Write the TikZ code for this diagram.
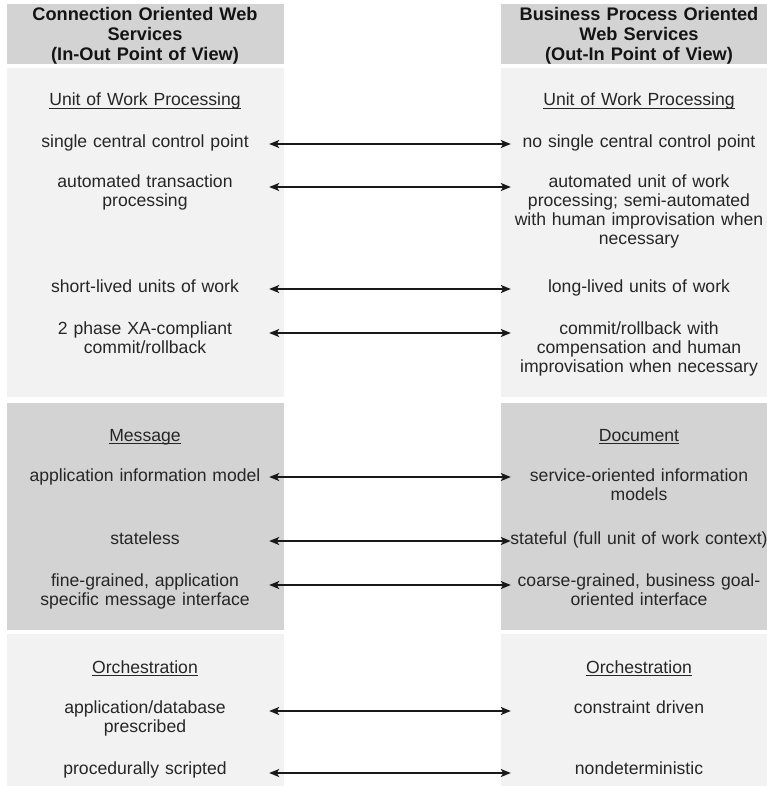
\documentclass[tikz,border=0pt]{standalone}
\usepackage{fontspec}
\setmainfont{Liberation Sans}
\usetikzlibrary{arrows.meta, positioning}

\definecolor{bandgray}{HTML}{D3D3D3}
\definecolor{palegray}{HTML}{F2F2F2}
\definecolor{inkgray}{HTML}{262626}

\newcommand{\rowfont}{\fontsize{17.6}{19}\selectfont}
\newcommand{\colheadfont}{\fontsize{18.2}{20}\selectfont\bfseries}
\newsavebox{\topicbox}
\newcommand{\topicline}[1]{\sbox{\topicbox}{#1}\rlap{\rule[-2.5pt]{\wd\topicbox}{0.9pt}}\usebox{\topicbox}}

\begin{document}
\begin{tikzpicture}[x=1pt, y=-1pt,
		lefttext/.style = {text width=248pt, align=center, inner sep=0pt, anchor=base, font=\rowfont, text=inkgray},
		righttext/.style = {lefttext, text width=256pt},
		headtext/.style = {text width=272pt, align=center, inner sep=0pt, anchor=base, font=\colheadfont, text=black!92},
		band/.style = {fill=bandgray},
		pale/.style = {fill=palegray},
		link/.style = {<->, line width=1.5pt, draw=black!90},
		>={Stealth[length=10pt, width=8pt, inset=2.5pt]}
		]
		
		\useasboundingbox (0,0) rectangle (767,786);
		
		% --- FONDOS DE COLUMNA ---
		\fill [band] (7,4)   rectangle (284,64);
		\fill [band] (501,4) rectangle (767,64);
		\fill [pale] (7,68)   rectangle (284,397);
		\fill [pale] (501,68) rectangle (767,397);
		\fill [band] (7,403)   rectangle (284,630);
		\fill [band] (501,403) rectangle (767,630);
		\fill [pale] (7,634)   rectangle (284,786);
		\fill [pale] (501,634) rectangle (767,786);
		
		% --- TITULOS DE COLUMNA ---
		\node [headtext] (head_l) at (145,21) {Connection Oriented Web\\ Services\\ (In-Out Point of View)};
		\node [headtext] (head_r) at (639,21) {Business Process Oriented\\ Web Services\\ (Out-In Point of View)};
		
		% --- BLOQUE 1: UNIDAD DE TRABAJO ---
		\node [lefttext]  (unit_l) at (145,106) {\topicline{Unit of Work Processing}};
		\node [righttext] (unit_r) at (639,106) {\topicline{Unit of Work Processing}};
		
		\node [lefttext]  (ctrl_l) at (145,147.5) {single central control point};
		\node [righttext] (ctrl_r) at (639,147.5) {no single central control point};
		
		\node [lefttext]  (txn_l) at (145,188) {automated transaction\\ processing};
		\node [righttext] (txn_r) at (639,188) {automated unit of work\\ processing; semi-automated\\ with human improvisation when\\ necessary};
		
		\node [lefttext]  (life_l) at (145,292.5) {short-lived units of work};
		\node [righttext] (life_r) at (639,292.5) {long-lived units of work};
		
		\node [lefttext]  (commit_l) at (145,334.5) {2 phase XA-compliant\\ commit/rollback};
		\node [righttext] (commit_r) at (639,334.5) {commit/rollback with\\ compensation and human\\ improvisation when necessary};
		
		% --- BLOQUE 2: MENSAJE / DOCUMENTO ---
		\node [lefttext]  (msg_l) at (145,441) {\topicline{Message}};
		\node [righttext] (doc_r) at (639,441) {\topicline{Document}};
		
		\node [lefttext]  (info_l) at (145,481.5) {application information model};
		\node [righttext] (info_r) at (639,481.5) {service-oriented information\\ models};
		
		\node [lefttext]  (state_l) at (145,544.5) {stateless};
		\node [righttext] (state_r) at (639,544.5) {\makebox[\linewidth]{stateful (full unit of work context)}};
		
		\node [lefttext]  (grain_l) at (145,586.5) {fine-grained, application\\ specific message interface};
		\node [righttext] (grain_r) at (639,586.5) {coarse-grained, business goal-\\ oriented interface};
		
		% --- BLOQUE 3: ORQUESTACION ---
		\node [lefttext]  (orch_l) at (145,673) {\topicline{Orchestration}};
		\node [righttext] (orch_r) at (639,673) {\topicline{Orchestration}};
		
		\node [lefttext]  (presc_l) at (145,713.5) {application/database\\ prescribed};
		\node [righttext] (presc_r) at (639,713.5) {constraint driven};
		
		\node [lefttext]  (script_l) at (145,774.5) {procedurally scripted};
		\node [righttext] (script_r) at (639,774.5) {nondeterministic};
		
		% --- CONEXIONES ENTRE COLUMNAS ---
		\draw [link] ([yshift=3.5pt]ctrl_l.base east)   -- ([yshift=3.5pt]ctrl_r.base west);
		\draw [link] ([yshift=1pt]txn_l.base east)      -- ([yshift=1pt]txn_r.base west);
		\draw [link] ([yshift=3.5pt]life_l.base east)   -- ([yshift=3.5pt]life_r.base west);
		\draw [link] ([yshift=1.5pt]commit_l.base east) -- ([yshift=1.5pt]commit_r.base west);
		\draw [link] ([yshift=4.5pt]info_l.base east)   -- ([yshift=4.5pt]info_r.base west);
		\draw [link] ([yshift=3.5pt]state_l.base east)  -- ([yshift=3.5pt]state_r.base west);
		\draw [link] ([yshift=1.5pt]grain_l.base east)  -- ([yshift=1.5pt]grain_r.base west);
		\draw [link] ([yshift=2.5pt]presc_l.base east)  -- ([yshift=2.5pt]presc_r.base west);
		\draw [link] ([yshift=1.5pt]script_l.base east) -- ([yshift=1.5pt]script_r.base west);
		
	\end{tikzpicture}
\end{document}
